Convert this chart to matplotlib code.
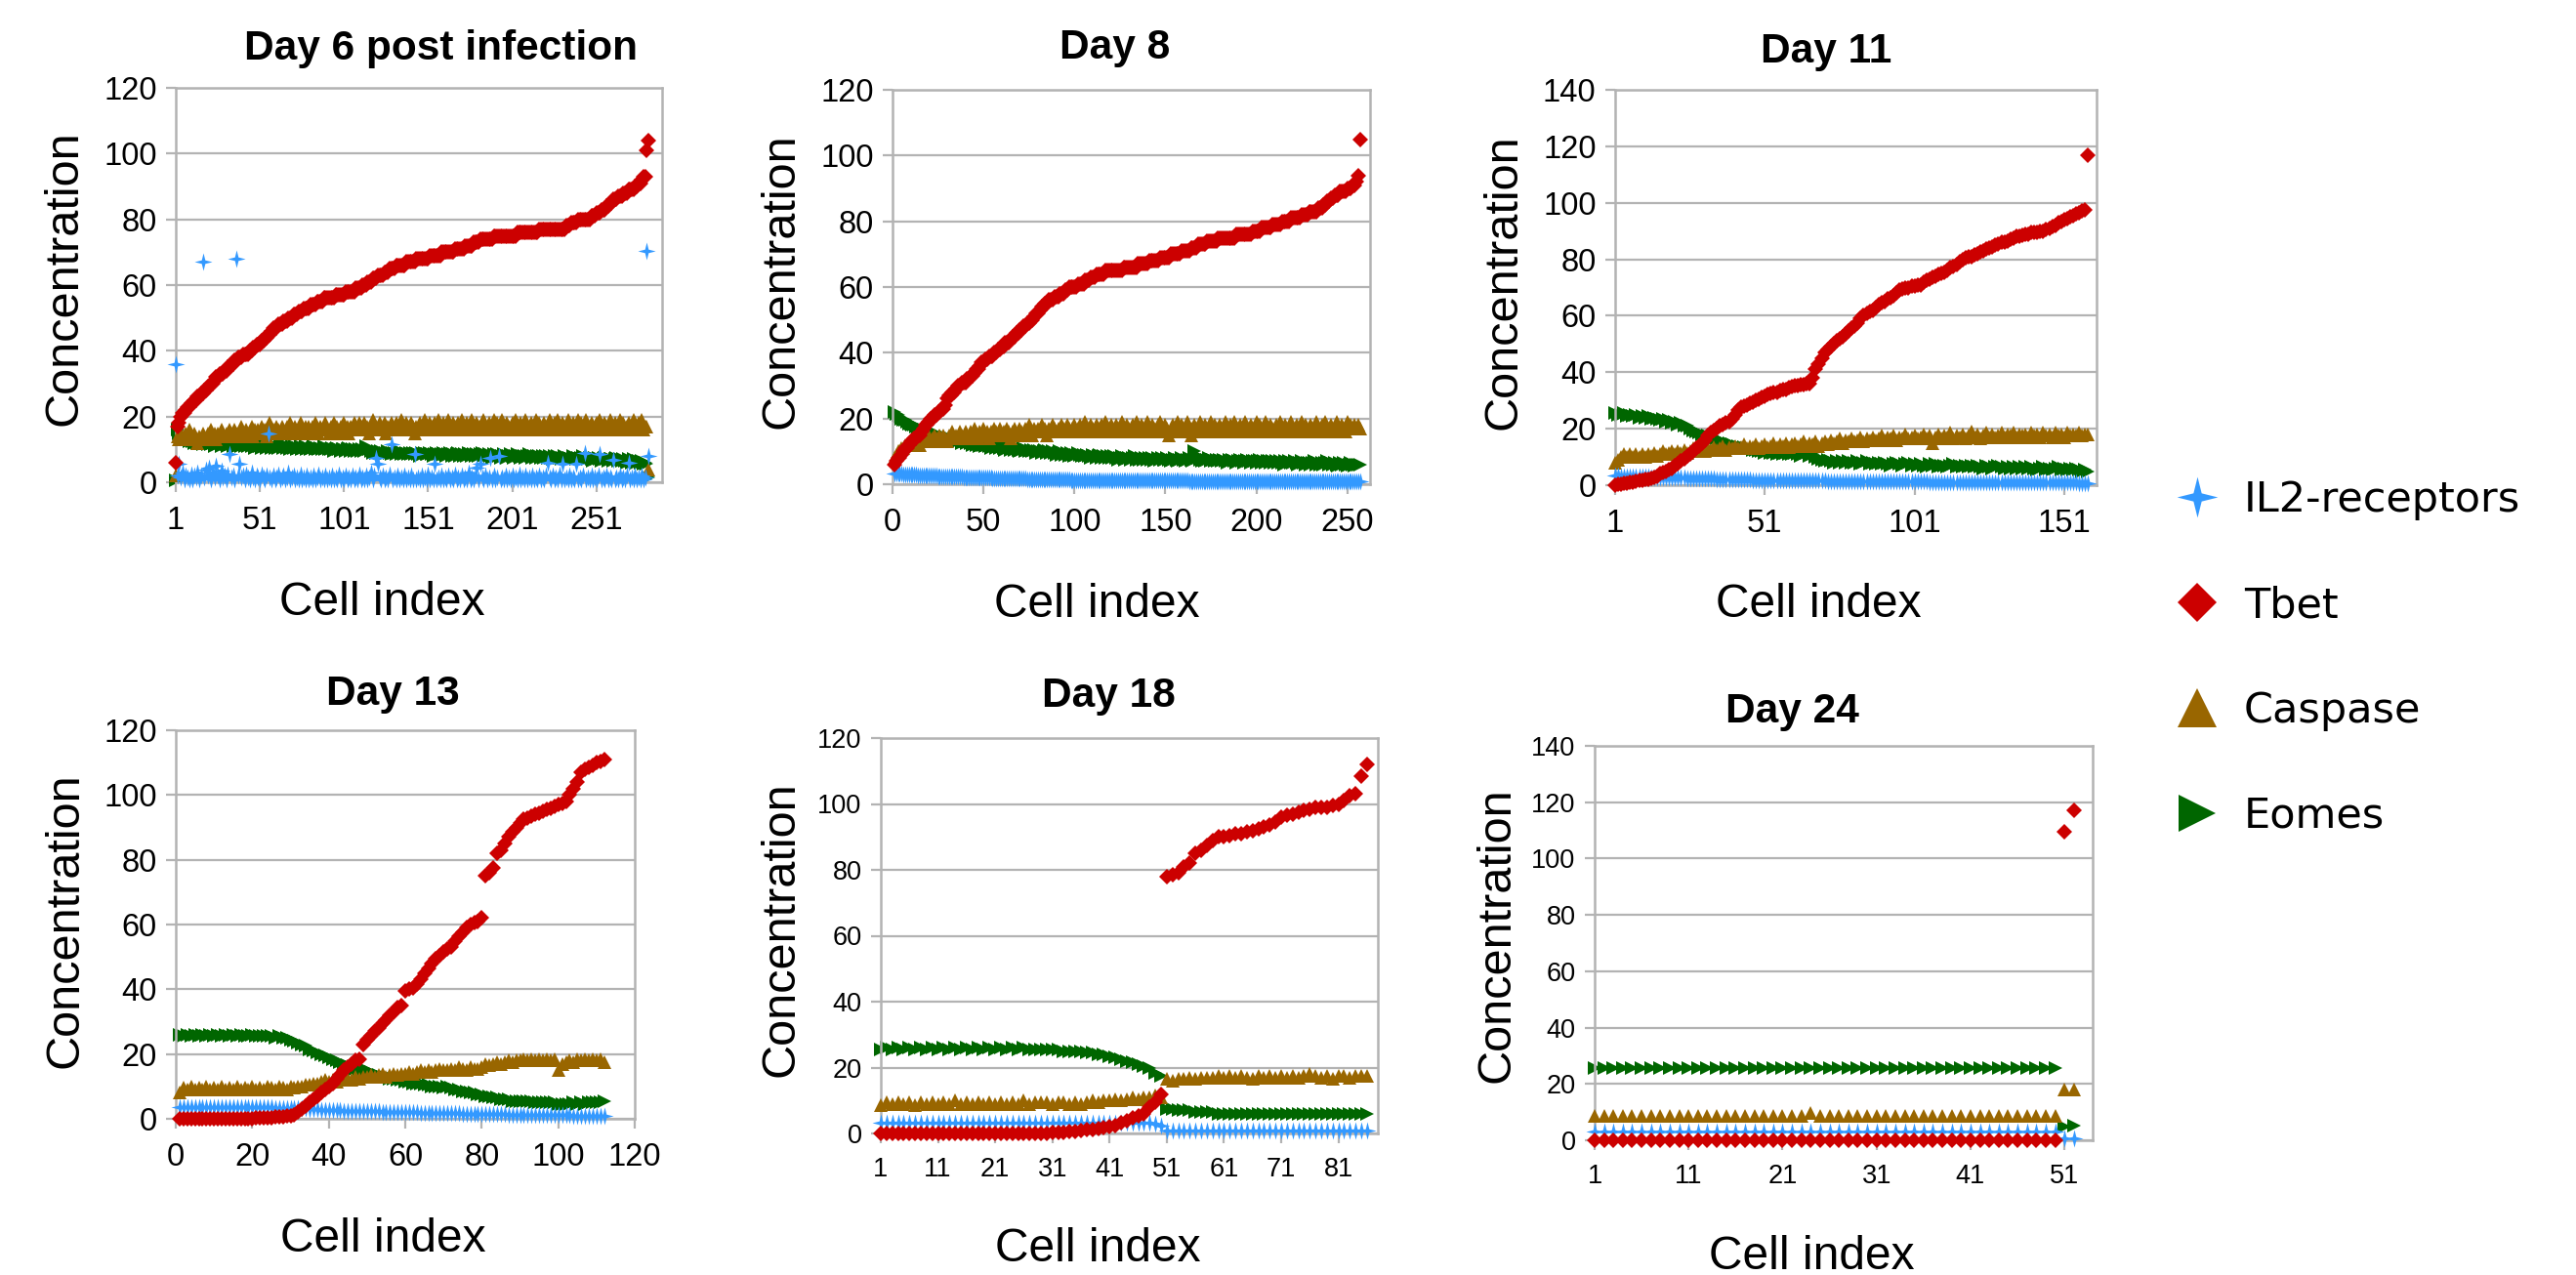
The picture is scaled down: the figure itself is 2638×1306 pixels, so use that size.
import matplotlib
matplotlib.use("Agg")
import matplotlib.pyplot as plt
from matplotlib.path import Path
from matplotlib.lines import Line2D

W, H = 2638, 1306

# ---------------- data: Day 6 ----------------
tbet_d6 = [6, 17, 18,
    20, 21, 21, 22, 23, 23, 24, 24, 25, 25, 26, 26, 27, 27,
    28, 28, 29, 29, 30, 30, 31, 32, 32, 33, 33, 33, 34, 34, 35, 35, 36, 36,
    37, 37, 38, 38, 38, 39, 39, 39, 39, 40, 40, 41, 41, 42, 42, 42,
    43, 43, 44, 44, 45, 45, 46, 47, 47, 47, 48, 48, 48, 49, 49, 49, 50, 50, 50, 51, 51,
    51, 52, 52, 52, 53, 53, 53, 53, 54, 54, 54, 54, 55, 55, 55, 55, 56, 56, 56, 56, 56,
    56, 56, 57, 57, 57, 57, 57, 57, 58, 58, 58, 58, 58, 58, 59, 59, 59, 59,
    60, 60, 60, 61, 61, 61, 62, 62, 62, 63, 63, 63, 63, 64, 64, 64, 65, 65, 65, 65, 66, 66, 66,
    66, 66, 66, 67, 67, 67, 67, 67, 67, 68, 68, 68, 68, 68, 68, 68,
    68, 69, 69, 69, 69, 69, 69, 69, 70, 70, 70, 70, 70, 70, 70, 70, 71, 71, 71, 71, 71, 71, 72, 72, 72, 72,
    72, 73, 73, 73, 73, 74, 74, 74, 74, 74, 74, 74, 74, 75, 75, 75, 75, 75, 75, 75, 75, 75, 75, 75, 75, 75,
    75, 76, 76, 76, 76, 76, 76, 76, 76, 76, 76, 76, 76, 76, 77, 77, 77, 77, 77, 77, 77, 77, 77, 77, 77, 77, 77, 77, 77,
    77, 78, 78, 78, 79, 79, 79, 79, 80, 80, 80, 80, 80, 80, 80, 80, 81, 81, 81, 82, 82, 82, 83,
    83, 83, 84, 84, 85, 85, 86, 86, 86, 87, 87, 87, 88, 88, 88, 89, 89, 89, 89, 90, 90, 91, 91, 92,
    93, 93, 101, 104]
casp_d6 = [2, 14, 13, 15, 14, 13, 15, 14, 16, 13,
    14, 15, 13, 12, 14, 13, 15, 14, 13, 15,
    14, 16, 14, 15, 13, 15, 14, 16, 15, 14,
    15, 14, 16, 15, 14, 16, 15, 14, 15, 17,
    15, 14, 16, 15, 15, 17, 14, 16, 15, 16,
    15, 17, 15, 16, 14, 16, 18, 15, 16, 15,
    17, 16, 15, 17, 16, 15, 17, 16, 18, 15,
    16, 17, 15, 16, 18, 16, 15, 17, 16, 17,
    15, 17, 16, 18, 16, 15, 17, 16, 17, 18,
    16, 15, 17, 16, 18, 16, 17, 15, 17, 16,
    18, 16, 17, 15, 17, 16, 18, 17, 16, 18,
    16, 17, 18, 16, 17, 15, 17, 19, 16, 17,
    16, 18, 17, 16, 18, 15, 17, 16, 18, 17,
    16, 18, 17, 16, 19, 17, 16, 18, 17, 16,
    18, 17, 15, 17, 16, 18, 17, 16, 19, 17,
    16, 18, 17, 16, 18, 17, 19, 16, 17, 18,
    16, 17, 19, 17, 16, 18, 17, 16, 18, 17,
    19, 16, 17, 18, 16, 17, 19, 17, 16, 18,
    17, 16, 18, 19, 17, 16, 18, 17, 16, 19,
    17, 18, 16, 17, 19, 17, 16, 18, 17, 16,
    18, 17, 19, 16, 17, 18, 16, 17, 19, 17,
    16, 18, 17, 16, 19, 17, 18, 16, 17, 18,
    17, 16, 19, 17, 16, 18, 17, 19, 16, 17,
    18, 16, 17, 19, 17, 16, 18, 17, 16, 19,
    17, 18, 16, 17, 19, 17, 16, 18, 17, 16,
    18, 17, 19, 16, 17, 18, 16, 17, 19, 17,
    16, 18, 17, 16, 19, 17, 18, 16, 17, 18,
    17, 16, 19, 17, 16, 18, 17, 19, 16, 17,
    17, 4]
eomes_d6 = [0.5, 16, 15, 14, 14, 13, 13.5, 13, 12.5, 13,
    12.5, 12, 13, 12, 12.5, 12, 11.5, 12.5, 12, 11.5,
    12, 11.5, 12, 11, 12, 11.5, 12, 11, 11.5, 12,
    11.5, 11, 12, 11.5, 11, 11.5, 12, 11, 11.5, 11,
    11.5, 11, 12, 11, 11.5, 11, 11.5, 10.5, 11.5, 11,
    11, 10.5, 11.5, 11, 10.5, 11, 11.5, 10.5, 11, 10.5,
    11, 10.5, 11, 11.5, 10.5, 11, 10.5, 11, 10, 11,
    10.5, 11, 10, 10.5, 11, 10, 10.5, 11, 10, 10.5,
    10, 10.5, 11, 10, 10.5, 10, 10.5, 10, 11, 10,
    10.5, 10, 10, 10.5, 9.5, 10, 10.5, 10, 9.5, 10,
    10, 9.5, 10, 10.5, 9.5, 10, 9.5, 10, 9.5, 10,
    9.5, 10, 9.5, 11, 10.5, 10, 9.5, 9, 9.5, 9,
    9.5, 9, 9.5, 9, 8.5, 9, 9.5, 9, 8.5, 9,
    9, 8.5, 9, 9.5, 8.5, 9, 8.5, 9, 8.5, 9,
    8.5, 9, 8.5, 9, 8.5, 8, 9, 8.5, 9, 8.5,
    8.5, 9, 8.5, 8, 8.5, 9, 8.5, 8, 8.5, 9,
    8.5, 8, 8.5, 9, 8, 8.5, 8, 8.5, 9, 8,
    8.5, 8, 8.5, 8, 9, 8.5, 8, 8.5, 8, 8.5,
    8, 8.5, 9, 8, 8.5, 8, 8.5, 8, 7.5, 8.5,
    8, 8.5, 8, 7.5, 8, 8.5, 8, 7.5, 8, 8.5,
    8, 7.5, 8, 8.5, 8, 7.5, 8, 8, 7.5, 8,
    8.5, 8, 7.5, 8, 7.5, 8, 8, 7.5, 8, 7.5,
    8, 7.5, 8, 7.5, 7, 8, 7.5, 8, 7.5, 7,
    7.5, 8, 7.5, 7, 7.5, 7, 8, 7.5, 7, 7.5,
    7, 7.5, 8, 7, 7.5, 7, 7.5, 7, 6.5, 7.5,
    7, 7.5, 7, 6.5, 7, 7.5, 7, 6.5, 7, 7,
    6.5, 7, 7.5, 6.5, 7, 6.5, 7, 6.5, 6, 7,
    6.5, 6, 7, 6.5, 6, 6.5, 6, 6.5, 5.5, 6,
    5.5, 1.5]
il2_d6 = [35.8, 2, 5.5, 1.5, 3, 1, 2, 1.5, 0.8, 2.5,
    1, 2, 1.5, 3, 1, 2, 67, 1.5, 4, 2,
    4.5, 1, 3, 1.5, 5, 2, 1, 3.5, 1.5, 2,
    1, 2.5, 8.5, 1.5, 2, 1, 68, 2, 5.5, 1.5,
    2, 1, 2.5, 1.5, 1, 3, 1.5, 1, 2, 1.5,
    1, 2.5, 1.5, 1, 2, 14.8, 1.5, 1, 2, 1,
    1.5, 2.5, 1, 1.5, 2, 1, 1.5, 3, 1, 1.5,
    2, 1, 1.5, 1, 2.5, 1, 1.5, 1, 2, 1,
    1.5, 1, 2, 1, 1.5, 2.5, 1, 1.5, 1, 2,
    1, 1.5, 1, 2, 1, 1.5, 1, 2.5, 1, 1.5,
    1, 2, 1, 1.5, 1, 2, 1, 1.5, 1, 2.5,
    1, 1.5, 1, 2, 1, 1.5, 3, 1, 2, 7.3,
    5.5, 1.5, 1, 2, 1, 1.5, 1, 2.5, 11.5, 1,
    1.5, 1, 2, 1, 1.5, 1, 2, 1, 1.5, 1,
    2, 1, 8.5, 1, 1.5, 1, 2, 1, 1.5, 1,
    2.5, 1, 1.5, 1, 5.5, 1, 1.5, 1, 2, 1,
    1.5, 1, 2, 1, 1.5, 1, 2.5, 1, 1.5, 1,
    2, 1, 1.5, 1, 3, 1, 1.5, 1, 2, 4.5,
    1, 5.5, 1.5, 1, 2, 1, 1.5, 7.3, 1, 2,
    1, 1.5, 7.9, 1, 1.5, 1, 2, 1, 1.5, 1,
    2, 1, 1.5, 1, 2.5, 1, 1.5, 1, 2, 1,
    1.5, 1, 2, 1, 1.5, 1, 2, 1, 1.5, 1,
    2, 6, 1.5, 1, 2, 1, 1.5, 1, 2.5, 1,
    5.5, 1, 1.5, 1, 2, 1, 1.5, 1, 5.5, 1,
    1.5, 1, 2, 9, 1, 1.5, 1, 2, 1, 1.5,
    1, 2, 8.5, 1, 1.5, 1, 2, 1, 1.5, 1,
    6.7, 1, 1.5, 1, 2, 1, 1.5, 1, 2, 6,
    1, 1.5, 1, 2, 1, 1.5, 1, 2, 1, 1.5,
    70.3, 7.9]

# ---------------- data: Day 8 ----------------
tbet_d8 = [6, 7, 8, 8, 9, 10, 11, 11, 12, 13,
    13, 14, 14, 15, 15, 16, 17, 18, 18, 19,
    20, 20, 21, 21, 22, 22, 23, 23, 24, 26,
    27, 27, 28, 28, 29, 30, 30, 31, 31, 31,
    32, 32, 33, 33, 34, 35, 35, 36, 37, 37,
    38, 38, 39, 39, 39, 40, 40, 41, 41, 42,
    42, 43, 43, 43, 44, 45, 45, 46, 46, 47,
    47, 48, 48, 49, 49, 50, 50, 51, 52, 52,
    53, 54, 54, 55, 55, 56, 56, 56, 57, 57,
    57, 58, 58, 58, 59, 59, 60, 60, 60, 60,
    60, 61, 61, 61, 61, 62, 62, 62, 63, 63,
    63, 64, 64, 64, 64, 64, 65, 65, 65, 65,
    65, 65, 65, 65, 65, 65, 66, 66, 66, 66,
    66, 66, 66, 66, 67, 67, 67, 67, 67, 67,
    68, 68, 68, 68, 68, 68, 69, 69, 69, 69,
    69, 69, 70, 70, 70, 70, 70, 70, 71, 71,
    71, 71, 71, 72, 72, 72, 72, 73, 73, 73,
    73, 73, 74, 74, 74, 74, 74, 74, 75, 75,
    75, 75, 75, 75, 75, 75, 75, 75, 76, 76,
    76, 76, 76, 76, 76, 76, 76, 77, 77, 77,
    77, 77, 78, 78, 78, 78, 78, 78, 79, 79,
    79, 79, 79, 80, 80, 80, 80, 80, 81, 81,
    81, 81, 81, 81, 82, 82, 82, 82, 83, 83,
    83, 83, 83, 84, 84, 84, 85, 85, 86, 86,
    87, 87, 88, 88, 88, 89, 89, 89, 89, 90,
    90, 90, 91, 91, 92, 94, 105]
casp_d8 = [8, 9, 10, 10, 11, 11, 12, 12, 12, 13,
    12, 13, 14, 13, 12, 14, 13, 14, 13, 15,
    13, 14, 15, 14, 13, 15, 14, 15, 14, 13,
    15, 14, 16, 14, 15, 14, 16, 15, 14, 16,
    15, 14, 16, 15, 17, 15, 14, 16, 15, 17,
    15, 16, 14, 16, 15, 17, 16, 15, 17, 15,
    16, 15, 17, 16, 14, 16, 17, 15, 16, 17,
    16, 15, 17, 16, 18, 16, 15, 17, 16, 17,
    16, 18, 16, 17, 15, 17, 16, 18, 17, 16,
    17, 16, 18, 17, 16, 18, 17, 16, 17, 18,
    16, 17, 18, 16, 17, 19, 17, 16, 18, 17,
    16, 18, 17, 16, 18, 17, 19, 16, 17, 18,
    17, 16, 18, 17, 16, 19, 17, 16, 18, 17,
    16, 18, 17, 19, 16, 17, 18, 16, 17, 19,
    17, 16, 18, 17, 16, 18, 19, 17, 16, 18,
    17, 15, 16, 18, 17, 16, 19, 17, 18, 16,
    17, 19, 16, 15, 17, 18, 16, 17, 19, 17,
    16, 18, 17, 16, 19, 17, 18, 16, 17, 18,
    17, 16, 19, 17, 16, 18, 17, 19, 16, 17,
    18, 16, 17, 19, 17, 16, 18, 17, 16, 19,
    17, 18, 16, 17, 19, 17, 16, 18, 17, 16,
    18, 17, 19, 16, 17, 18, 16, 17, 19, 17,
    16, 18, 17, 16, 19, 17, 18, 16, 17, 18,
    17, 16, 19, 17, 16, 18, 17, 19, 16, 17,
    18, 16, 17, 19, 17, 16, 18, 17, 16, 19,
    17, 18, 17, 18, 17, 18, 17]
eomes_d8 = [22, 21.5, 21, 20.5, 20, 19.5, 19.5, 19, 18.5, 18.5,
    18, 18, 17.5, 17, 17, 16.5, 16.5, 16, 16, 16,
    15.5, 15.5, 15, 15.5, 15, 14.5, 14.5, 14, 14.5, 14,
    13.5, 14, 13.5, 13, 13.5, 13, 13.5, 12.5, 13, 13,
    12.5, 13, 12.5, 12, 12.5, 12, 12.5, 11.5, 12, 12,
    11.5, 12, 11.5, 11, 11.5, 12, 11, 11.5, 11, 11.5,
    11, 10.5, 11, 11.5, 10.5, 11, 10.5, 11, 10.5, 10,
    10.5, 11, 10, 10.5, 10, 10.5, 10, 10.5, 9.5, 10,
    10, 9.5, 10, 10.5, 9.5, 10, 9.5, 10, 9.5, 9,
    9.5, 10, 9, 9.5, 9, 9.5, 8.5, 9.5, 9, 8.5,
    9, 9.5, 9, 8.5, 9, 8.5, 9, 8.5, 8, 9,
    8.5, 8, 8.5, 9, 8, 8.5, 8, 8.5, 8, 8.5,
    8, 8.5, 8, 7.5, 8, 8.5, 8, 7.5, 8, 8,
    7.5, 8, 8.5, 7.5, 8, 7.5, 8, 7.5, 8, 7.5,
    8, 7.5, 8, 7, 7.5, 8, 7.5, 8, 7.5, 7.5,
    8, 7.5, 7, 7.5, 8, 7.5, 7, 7.5, 8, 7.5,
    7, 7.5, 8, 7.5, 7, 10, 9, 8, 7.5, 7,
    7.5, 7, 7.5, 8, 7, 7.5, 7, 7.5, 7, 7.5,
    7, 7.5, 7, 6.5, 7.5, 7, 7.5, 7, 6.5, 7,
    7.5, 7, 6.5, 7, 7.5, 7, 6.5, 7, 7, 6.5,
    7, 7.5, 6.5, 7, 6.5, 7, 7, 6.5, 7, 6.5,
    7, 6.5, 7, 6.5, 6, 7, 6.5, 7, 6.5, 6.5,
    7, 6.5, 6, 6.5, 7, 6.5, 6, 6.5, 6.5, 6,
    6.5, 7, 6, 6.5, 6, 6.5, 6, 6.5, 7, 6,
    6.5, 6, 6.5, 6, 5.5, 6.5, 6, 6.5, 6, 5.5,
    6, 6.5, 6, 5.5, 6, 6, 6]
il2_d8 = ([3.4, 3.3, 3.3, 3.2, 3.2, 3.1, 3.1, 3.0, 3.0, 3.0,
    2.9, 2.9, 2.9, 2.8, 2.8, 2.8, 2.7, 2.7, 2.7, 2.7,
    2.6, 2.6, 2.6, 2.6, 2.5, 2.5, 2.5, 2.5, 2.4, 2.4,
    2.4, 2.4, 2.4, 2.3, 2.3, 2.3, 2.3, 2.3, 2.2, 2.2,
    2.2, 2.2, 2.2, 2.1, 2.1, 2.1, 2.1, 2.1, 2.0, 2.0,
    2.0, 2.0, 2.0, 2.0, 1.9, 1.9, 1.9, 1.9, 1.9, 1.9,
    1.8, 1.8, 1.8, 1.8, 1.8, 1.8, 1.7, 1.7, 1.7, 1.7,
    1.7, 1.7, 1.7, 1.6, 1.6, 1.6, 1.6, 1.6, 1.6, 1.6,
    1.5, 1.5, 1.5, 1.5, 1.5, 1.5, 1.5, 1.5, 1.4, 1.4,
    1.4, 1.4, 1.4, 1.4, 1.4, 1.4, 1.4, 1.3, 1.3, 1.3]
    + [1.3] * 13 + [1.2] * 19 + [1.1] * 30 + [1.0] * 35 + [0.9] * 35 + [0.8] * 25)

# ---------------- data: Day 11 ----------------
tbet_d11 = [0, 0.2, 0.4, 0.6, 0.8, 1, 1.2, 1.4, 1.6, 1.8,
    2, 2.2, 2.5, 2.8, 3, 4, 4.5, 5, 5.5, 6,
    7, 7.5, 8.5, 9.5, 10.5, 11, 12, 13, 14, 15,
    16, 17.5, 18.5, 19.5, 20, 21, 21.5, 22, 22.5, 23.5,
    25, 26.5, 27.5, 28, 28.5, 29, 29.5, 30, 30.5, 31,
    31.5, 32, 32.5, 33, 33, 33.5, 34, 34, 34.5, 35,
    35.2, 35.4, 35.5, 35.6, 35.8, 36, 38, 41, 43, 45,
    47, 48, 49, 50, 51, 52, 52.5, 53.5, 54.5, 55.5,
    56.5, 57.5, 59, 60, 61, 61.5, 62, 63, 64, 64.5,
    65, 66, 66.5, 67, 68, 69, 69.5, 70, 70, 70.5,
    70.5, 71, 71, 72, 72.5, 73, 73.5, 74, 74.5, 75,
    75.5, 76, 77, 77.5, 78, 79, 80, 80.5, 81, 81,
    81.5, 82, 82.5, 83, 83.5, 84, 84.5, 85, 85.5, 86,
    86, 86.5, 87, 87.5, 88, 88, 88.5, 89, 89, 89.5,
    89.5, 89.5, 90, 90, 90.5, 91, 91.5, 92, 93, 93.5,
    94, 94.5, 95, 95.5, 96, 96.5, 97, 97.5, 117]
casp_d11 = [8, 9, 10, 11, 10, 11, 10, 11, 10, 11,
    10, 11, 10.5, 11.5, 10.5, 11, 12, 11, 11.5, 12,
    11, 12, 11.5, 12.5, 11.5, 12, 13, 12, 12.5, 13,
    12, 13, 12.5, 13.5, 12.5, 13, 14, 12.5, 13.5, 13,
    14, 13, 13.5, 14.5, 13, 14, 13.5, 14.5, 13, 14,
    14.5, 13.5, 14, 15, 13.5, 14.5, 14, 15, 13.5, 14.5,
    15, 14, 14.5, 15.5, 14, 15, 14.5, 15.5, 14, 15,
    15.5, 14.5, 16, 15, 15.5, 16.5, 15, 16, 15.5, 16.5,
    15.5, 16, 17, 15.5, 16.5, 16, 17, 16, 16.5, 17.5,
    16, 17, 16.5, 17.5, 16, 17, 16.5, 18, 16.5, 17,
    17.5, 16.5, 17, 18, 16.5, 17.5, 15, 17, 18, 16.5,
    17.5, 17, 18.5, 16.5, 17.5, 17, 18, 16.5, 17.5, 19,
    17, 18, 16.5, 17.5, 18.5, 17, 18, 17, 17.5, 18.5,
    17, 18, 17.5, 18.5, 17, 18, 17.5, 18, 17, 18.5,
    17.5, 18, 17, 18.5, 17.5, 18, 17, 18.5, 17.5, 18,
    17, 18.5, 17.5, 18, 17.5, 18.5, 17.5, 18, 18]
eomes_d11 = [25.5, 25, 25, 25.5, 24.5, 25, 24.5, 25, 24, 24.5,
    24, 24.5, 23.5, 24, 23.5, 23, 23.5, 22.5, 23, 22,
    22.5, 21.5, 22, 21, 21, 20, 19.5, 19, 18.5, 18,
    17.5, 17.5, 17, 16.5, 16.5, 16, 15.5, 15, 15, 14.5,
    14, 14, 13.5, 13.5, 13, 13, 12.5, 12.5, 12, 12,
    11.5, 12, 11.5, 11.5, 11, 11.5, 11, 11.5, 11, 11,
    11.5, 11, 10.5, 11, 11.5, 10.5, 11, 10, 9.5, 9,
    8.5, 9, 8.5, 8, 8.5, 8, 8.5, 8, 8.5, 8,
    8, 8.5, 7.5, 8, 8.5, 7.5, 8, 7.5, 8, 7.5,
    8, 7.5, 7, 7.5, 8, 7.5, 7, 7.5, 8, 7,
    7.5, 7, 7.5, 7, 6.5, 7.5, 7, 7.5, 6.5, 7,
    7, 6.5, 7, 7.5, 6.5, 7, 6.5, 7, 6.5, 7,
    6.5, 7, 6.5, 6, 7, 6.5, 6, 6.5, 7, 6.5,
    6, 6.5, 6, 6.5, 6, 6.5, 6, 6.5, 6, 6.5,
    6, 5.5, 6, 6.5, 5.5, 6, 5.5, 6, 6.5, 5.5,
    6, 5.5, 6, 5.5, 6, 5.5, 5, 5.5, 5]
il2_d11 = ([3.3, 3.3, 3.2, 3.2, 3.2, 3.1, 3.1, 3.1, 3.0, 3.0,
    3.0, 3.0, 2.9, 2.9, 2.9, 2.8, 2.8, 2.8, 2.7, 2.7,
    2.7, 2.6, 2.6, 2.6, 2.5, 2.5, 2.5, 2.4, 2.4, 2.4,
    2.3, 2.3, 2.3, 2.3, 2.2, 2.2, 2.2, 2.2, 2.1, 2.1,
    2.1, 2.1, 2.0, 2.0, 2.0, 2.0, 1.9, 1.9, 1.9, 1.9]
    + [1.8] * 5 + [1.7] * 7 + [1.6] * 9 + [1.5] * 11 + [1.4] * 10 + [1.3] * 13
    + [1.2] * 11 + [1.1] * 12 + [1.0] * 16 + [0.9] * 11 + [0.8] * 4)

# ---------------- data: Day 13 ----------------
tbet_d13 = [0, 0, 0, 0, 0, 0, 0, 0, 0, 0,
    0, 0, 0, 0, 0, 0, 0, 0.1, 0.1, 0.1,
    0.2, 0.2, 0.3, 0.3, 0.4, 0.5, 0.5, 0.6, 0.8, 1,
    1.2, 2, 3, 4, 5, 6, 7, 8, 9, 10,
    11, 12.5, 13.5, 15, 16, 17, 18, 18.5, 23, 24.5,
    25.5, 27, 28, 29.5, 30.5, 32, 33, 34.5, 35, 39.5,
    40, 40.5, 41.5, 43, 45, 46.5, 48, 49.5, 50.5, 51.5,
    52.5, 53, 55, 56.5, 57.5, 59, 60, 60.5, 61, 62,
    75, 76, 77.5, 82, 83, 85, 87, 88.5, 90, 91.5,
    92.5, 93, 93.5, 94, 94.5, 95, 95.5, 96, 96.5, 97,
    97.5, 98, 100, 102, 104, 107, 108, 108.5, 109, 110,
    110.5, 111]
casp_d13 = [8, 9.5, 9, 10, 9, 9.5, 9, 10, 9, 9.5,
    9, 10, 9, 9.5, 9, 10, 9, 9.5, 9, 10,
    9, 9.5, 9, 10, 9.5, 9, 10, 9.5, 9, 10,
    9.5, 10, 10, 10.5, 10.5, 11, 11, 11.5, 12, 11.5,
    12, 11.5, 12.5, 12, 12.5, 12, 13, 12.5, 13, 13,
    13.5, 13, 13.5, 14, 13, 13.5, 14, 13.5, 14, 14,
    14.5, 14, 14.5, 15, 14.5, 15, 14.5, 15, 15.5, 15,
    15, 15.5, 15, 16, 15.5, 15, 16, 15.5, 15.5, 16,
    17, 16.5, 17, 17.5, 17, 17.5, 18, 17.5, 18, 18,
    18.5, 18, 18.5, 18, 18.5, 18, 18.5, 18, 18.5, 15,
    17, 17.5, 18, 17.5, 18.5, 18, 18.5, 18, 18.5, 18,
    18.5, 17.5]
eomes_d13 = [26, 25.5, 26, 25.5, 26, 25.5, 26, 25.5, 26, 25.5,
    26, 25.5, 26, 25.5, 26, 25.5, 26, 25.5, 25.5, 26,
    25.5, 25.5, 25.5, 25.5, 25.5, 25, 25.5, 25, 25, 24.5,
    24, 23.5, 23, 22.5, 21.5, 21, 20.5, 20, 19.5, 19,
    18.5, 18, 17.5, 17, 16.5, 16, 15.5, 15.5, 15, 15,
    14.5, 14, 13.5, 13, 13, 12.5, 12.5, 12, 12, 11.5,
    11.5, 11, 11, 11, 10.5, 10.5, 10, 10, 10, 9.5,
    10, 9.5, 9, 9, 8.5, 8.5, 8, 8, 7.5, 7.5,
    7, 7, 6.5, 6.5, 6, 6, 6, 5.5, 5.5, 5.5,
    5.5, 5.5, 5.5, 5, 5, 5, 5, 5, 5, 4.5,
    4.5, 4.5, 4.5, 5, 4.5, 5, 4.5, 5, 5, 5,
    5, 5.5]
il2_d13 = ([3.5] * 25 + [3.4] * 6
    + [3.3, 3.3, 3.2, 3.1, 3.0, 2.9, 2.8, 2.8, 2.7,
       2.7, 2.6, 2.6, 2.5, 2.5, 2.5, 2.4, 2.4, 2.4, 2.3,
       2.3, 2.3, 2.3, 2.2, 2.2, 2.2, 2.2, 2.1, 2.1, 2.1,
       2.0, 2.0, 2.0, 1.9, 1.9, 1.9, 1.8, 1.8, 1.8, 1.8,
       1.7, 1.7, 1.7, 1.7, 1.6, 1.6, 1.6, 1.6, 1.5, 1.5,
       1.5, 1.5, 1.4, 1.4, 1.4, 1.4, 1.3, 1.3, 1.3, 1.3]
    + [1.2] * 5 + [1.1] * 8 + [1.0] * 9)

# ---------------- data: Day 18 ----------------
tbet_d18 = [0] * 29 + [0.1,
    0.2, 0.3, 0.4, 0.5, 0.7, 0.9, 1.1, 1.3, 1.5, 1.8,
    2, 2.5, 3.2, 4, 4.6, 5.3, 6, 8, 9.5, 12,
    78, 78.5, 79, 81, 82, 85, 86, 87.5, 89, 90,
    90, 90.5, 91, 91, 91.5, 92, 92.5, 93, 93.5, 94.5,
    96, 96.5, 97, 97.5, 98, 98.5, 99, 99, 99, 99.5,
    100, 101, 102.5, 103, 108.5, 112]
casp_d18 = [8.5, 9.5, 9, 9.5, 9, 9.5, 8.5, 9.5, 9, 9.5,
    9, 9.5, 9, 10, 9, 9.5, 9, 9.5, 9, 9.5,
    9, 9.5, 9, 9.5, 9, 10, 9, 9.5, 9.5, 9.5,
    9, 9.5, 9.5, 9, 9.5, 9, 9.5, 10, 9.5, 10,
    10, 10.5, 10, 10.5, 11, 10.5, 11, 11, 11.5, 11,
    16.5, 16, 16.5, 16.5, 17, 16.5, 17, 17, 17, 17.5,
    17, 17.5, 17, 17.5, 17, 16.5, 17.5, 17, 17.5, 17,
    17.5, 17, 17.5, 17, 17.5, 18, 17.5, 17, 17.5, 16.5,
    17.5, 17.5, 17, 17.5, 17.5, 17.5]
eomes_d18 = [25.5, 26, 25.5, 26, 25.5, 26, 25.5, 26, 25.5, 26,
    25.5, 26, 25.5, 26, 25.5, 26, 25.5, 26, 25.5, 26,
    25.5, 26, 25.5, 26, 25.5, 26, 25.5, 25.5, 25.5, 25.5,
    25.5, 25.5, 25, 25, 25, 25, 24.5, 24.5, 24, 24,
    23.5, 23, 22.5, 22, 21.5, 21, 20.5, 20, 18.5, 17.5,
    7.5, 7.5, 7, 7, 7, 6.5, 6.5, 6.5, 6.5, 6,
    6, 6, 6, 6, 6, 6, 6, 6, 6, 6,
    6, 6, 6, 6, 6, 6, 6, 6, 6, 6,
    6, 6, 6, 6, 6, 6]
il2_d18 = [3.3] * 48 + [3, 2.5] + [1.0] * 36

# ---------------- data: Day 24 ----------------
tbet_d24 = [0] * 50 + [109.5, 117]
casp_d24 = [8.8] * 23 + [9.6] + [8.8] * 26 + [18, 18]
eomes_d24 = [25.5] * 50 + [5, 5.2]
il2_d24 = [3.2] * 50 + [0.7, 0.7]

titles = ["Day 6 post infection", "Day 8", "Day 11", "Day 13", "Day 18", "Day 24"]
xtick_sets = [[1, 51, 101, 151, 201, 251], [0, 50, 100, 150, 200, 250], [1, 51, 101, 151],
              [0, 20, 40, 60, 80, 100, 120], [1, 11, 21, 31, 41, 51, 61, 71, 81],
              [1, 11, 21, 31, 41, 51]]
ytop = [120, 120, 140, 120, 120, 140]
series_names = ["IL2-receptors", "Tbet", "Caspase", "Eomes"]

data = [
    (il2_d6, tbet_d6, casp_d6, eomes_d6),
    (il2_d8, tbet_d8, casp_d8, eomes_d8),
    (il2_d11, tbet_d11, casp_d11, eomes_d11),
    (il2_d13, tbet_d13, casp_d13, eomes_d13),
    (il2_d18, tbet_d18, casp_d18, eomes_d18),
    (il2_d24, tbet_d24, casp_d24, eomes_d24),
]

# ---------------- layout (pixels) ----------------
boxes = [(180, 90, 678, 494), (914, 92, 1403, 496), (1654, 92, 2147, 497),
         (180, 748, 650, 1146), (902, 756, 1411, 1161), (1633, 764, 2143, 1168)]
xlims = [(1, 290), (0, 262.5), (1, 161.8), (0, 120), (1, 87.9), (1, 54)]
title_xy = [(451, 50), (1142, 49), (1870, 53), (402, 711), (1135, 713), (1835, 729)]
ylab_xy = [(66, 285), (800, 288), (1540, 289), (67, 943), (800, 952), (1533, 958)]
xlab_xy = [(391, 617), (1123, 619), (1862, 620), (392, 1270), (1124, 1280), (1855, 1288)]
tick_fs = [23.5, 23.5, 23.5, 23.5, 19.5, 19.5]

colors = ["#3399ff", "#cc0000", "#996600", "#006600"]
star = Path([(0, 1), (0.2, 0.2), (1, 0), (0.2, -0.2), (0, -1),
             (-0.2, -0.2), (-1, 0), (-0.2, 0.2), (0, 1)], closed=True)
markers = [star, "D", "^", ">"]
msizes = [13, 8, 10.5, 10.5]
zorders = [4, 5, 3, 2]

FONT = "Liberation Sans"
GRID = "#b3b3b3"

fig = plt.figure(figsize=(W / 100, H / 100), dpi=100)

for i in range(6):
    l, t, r, b = boxes[i]
    ax = fig.add_axes([l / W, 1 - b / H, (r - l) / W, (b - t) / H])
    for k, ys in enumerate(data[i]):
        xs = list(range(1, len(ys) + 1))
        ax.plot(xs, ys, linestyle="none", marker=markers[k], ms=msizes[k],
                color=colors[k], markeredgewidth=0, zorder=zorders[k], clip_on=False)
    ax.set_xlim(*xlims[i])
    ax.set_ylim(0, ytop[i])
    ax.set_yticks(range(0, ytop[i] + 1, 20))
    ax.set_xticks(xtick_sets[i])
    ax.yaxis.grid(True, color=GRID, lw=1.6)
    ax.set_axisbelow(True)
    for sp in ax.spines.values():
        sp.set_color(GRID)
        sp.set_linewidth(1.8)
    ax.tick_params(axis="both", direction="out", length=7, width=1.6, color=GRID,
                   labelsize=tick_fs[i])
    ax.tick_params(axis="x", pad=10)
    ax.tick_params(axis="y", pad=7)
    for lab in ax.get_xticklabels() + ax.get_yticklabels():
        lab.set_fontfamily(FONT)
    fig.text(title_xy[i][0] / W, 1 - title_xy[i][1] / H, titles[i], ha="center", va="center",
             fontsize=30.5, fontweight="bold", family=FONT)
    fig.text(ylab_xy[i][0] / W, 1 - ylab_xy[i][1] / H, "Concentration", rotation=90,
             ha="center", va="center", fontsize=35, family=FONT)
    fig.text(xlab_xy[i][0] / W, 1 - xlab_xy[i][1] / H, "Cell index",
             ha="center", va="center", fontsize=34.5, family=FONT)

handles = [
    Line2D([], [], linestyle="none", marker=star, ms=30, color=colors[0], markeredgewidth=0),
    Line2D([], [], linestyle="none", marker="D", ms=20, color=colors[1], markeredgewidth=0),
    Line2D([], [], linestyle="none", marker="^", ms=29, color=colors[2], markeredgewidth=0),
    Line2D([], [], linestyle="none", marker=">", ms=27, color=colors[3], markeredgewidth=0),
]
fig.legend(handles, series_names, loc="center left", bbox_to_anchor=(2220 / W, 1 - 674 / H),
           frameon=False, prop={"family": "DejaVu Sans", "size": 31},
           handlelength=1.4, handletextpad=0.41, labelspacing=1.53,
           borderpad=0, borderaxespad=0)

fig.savefig("out.png", dpi=100)
